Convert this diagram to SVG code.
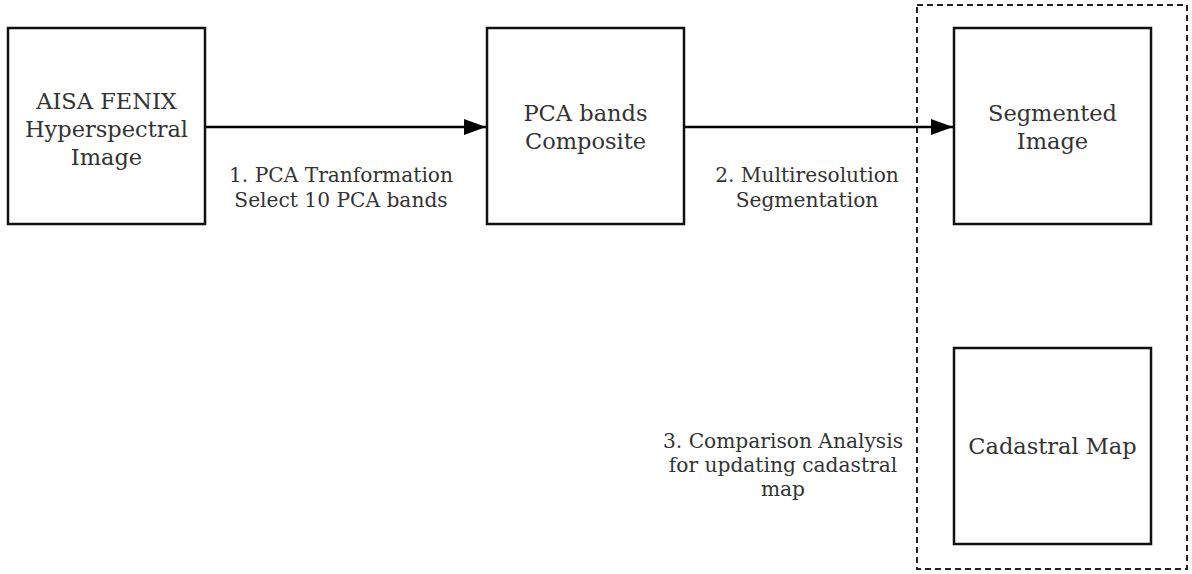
<svg xmlns="http://www.w3.org/2000/svg" width="1192" height="574" viewBox="0 0 1192 574">
<style>
.box{fill:#fff;stroke:#111;stroke-width:2.5}
.t{font-family:"DejaVu Serif","Liberation Serif",serif;font-size:22.5px;fill:#333;text-anchor:middle}
.l{font-family:"DejaVu Serif","Liberation Serif",serif;font-size:20.2px;fill:#333;text-anchor:middle}
.edge{stroke:#000;stroke-width:2.5;fill:none}
</style>
<defs>
<marker id="arr" markerUnits="userSpaceOnUse" markerWidth="24" markerHeight="16" refX="22" refY="8" orient="auto">
<path d="M0,0 L22,8 L0,16 Z" fill="#000"/>
</marker>
</defs>
<rect width="1192" height="574" fill="#fff"/>
<g id="group-frame">
<rect x="917" y="5" width="270" height="564" fill="none" stroke="#222" stroke-width="2" stroke-dasharray="6 4"/>
</g>
<g id="node-aisa">
<rect class="box" x="8" y="28" width="197" height="196"/>
<text class="t" x="106.5" y="109">AISA FENIX</text>
<text class="t" x="106.5" y="137">Hyperspectral</text>
<text class="t" x="106.5" y="165">Image</text>
</g>
<g id="node-pca">
<rect class="box" x="487" y="28" width="197" height="196"/>
<text class="t" x="585.5" y="121">PCA bands</text>
<text class="t" x="585.5" y="149">Composite</text>
</g>
<g id="node-segmented">
<rect class="box" x="954" y="28" width="197" height="196"/>
<text class="t" x="1052.5" y="121">Segmented</text>
<text class="t" x="1052.5" y="149">Image</text>
</g>
<g id="node-cadastral">
<rect class="box" x="954" y="348" width="197" height="196"/>
<text class="t" x="1052.5" y="454">Cadastral Map</text>
</g>
<g id="connectors">
<line class="edge" x1="205" y1="127" x2="486" y2="127" marker-end="url(#arr)"/>
<line class="edge" x1="684" y1="127" x2="953" y2="127" marker-end="url(#arr)"/>
</g>
<g id="labels">
<text class="l" x="341" y="182">1. PCA Tranformation</text>
<text class="l" x="341" y="207">Select 10 PCA bands</text>
<text class="l" x="807" y="182">2. Multiresolution</text>
<text class="l" x="807" y="207">Segmentation</text>
<text class="l" x="783" y="448">3. Comparison Analysis</text>
<text class="l" x="783" y="472">for updating cadastral</text>
<text class="l" x="783" y="496">map</text>
</g>
</svg>
